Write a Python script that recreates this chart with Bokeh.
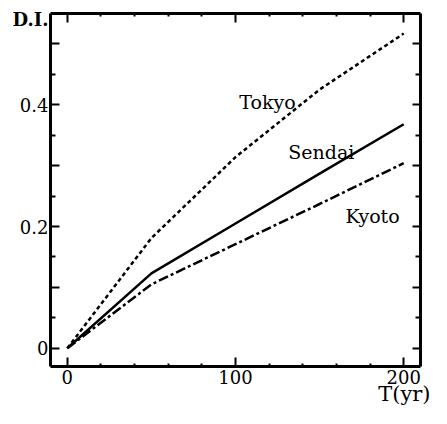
from bokeh.plotting import figure
from bokeh.models import LinearAxis, FixedTicker, Label, Range1d, Title
from bokeh.embed import file_html
from bokeh.resources import INLINE

# data
t = [0, 50, 100, 150, 200]
tokyo = [0.0, 0.181, 0.314, 0.425, 0.517]
sendai = [0.0, 0.123, 0.205, 0.287, 0.368]
kyoto = [0.0, 0.105, 0.171, 0.237, 0.304]

x_major = [0, 100, 200]
x_minor = [20, 40, 60, 80, 120, 140, 160, 180]
y_major = [0.0, 0.1, 0.2, 0.3, 0.4, 0.5]
y_minor = [0.05, 0.15, 0.25, 0.35, 0.45]
y_labels = {0.0: "0", 0.1: "", 0.2: "0.2", 0.3: "", 0.4: "0.4", 0.5: ""}
x_labels = {0: "0", 100: "100", 200: "200"}

FONT = "DejaVu Serif"

p = figure(width=431, height=408, output_backend="svg", toolbar_location=None,
           x_range=Range1d(-10, 210), y_range=Range1d(-0.03, 0.55),
           x_axis_location=None, y_axis_location=None,
           min_border_left=50, min_border_right=11, min_border_top=13, min_border_bottom=42)
p.outline_line_color = None
for g in p.grid:
    g.visible = False


def style(ax, major_in, minor_in, labels, show):
    ax.axis_line_width = 3
    ax.axis_line_color = "black"
    ax.major_tick_in = major_in
    ax.major_tick_out = 0
    ax.minor_tick_in = minor_in
    ax.minor_tick_out = 0
    ax.major_tick_line_width = 2
    ax.minor_tick_line_width = 2
    ax.major_label_text_font = FONT
    ax.major_label_text_color = "black"
    if show:
        ax.major_label_overrides = labels
        ax.major_label_text_font_size = "18px"
        ax.major_label_standoff = 2
    else:
        ax.major_label_overrides = {k: "" for k in labels}
        ax.major_label_text_font_size = "1px"
        ax.major_label_standoff = 0


xb = LinearAxis(ticker=FixedTicker(ticks=x_major, minor_ticks=x_minor))
style(xb, 9, 3, x_labels, True)
xb.major_label_standoff = 3
xt = LinearAxis(ticker=FixedTicker(ticks=x_major, minor_ticks=x_minor))
style(xt, 9, 3, x_labels, False)
yl = LinearAxis(ticker=FixedTicker(ticks=y_major, minor_ticks=y_minor))
style(yl, 9, 5, y_labels, True)
yr = LinearAxis(ticker=FixedTicker(ticks=y_major, minor_ticks=y_minor))
style(yr, 8, 5, y_labels, False)

p.add_layout(xb, "below")
p.add_layout(xt, "above")
p.add_layout(yl, "left")
p.add_layout(yr, "right")

p.line(t, tokyo, line_color="black", line_width=2.5, line_dash="4 3")
p.line(t, sendai, line_color="black", line_width=2.5)
p.line(t, kyoto, line_color="black", line_width=2.5, line_dash="10 3 3 3")

for txt, x, y in [("Tokyo", 119, 0.405), ("Sendai", 151, 0.323), ("Kyoto", 181.5, 0.218)]:
    p.add_layout(Label(x=x, y=y, text=txt, text_align="center", text_baseline="alphabetic",
                       text_font=FONT, text_font_size="19px", text_color="black"))

# axis names drawn as titles in the side panels (not clipped by the frame)
p.add_layout(Title(text="D.I.", align="left", vertical_align="bottom", offset=-38,
                   standoff=-33, text_font=FONT, text_font_size="18px",
                   text_font_style="bold", text_color="black"), "above")
p.add_layout(Title(text="T(yr)", align="right", vertical_align="top", offset=-10,
                   standoff=-10, text_font=FONT, text_font_size="21px",
                   text_font_style="normal", text_color="black"), "below")

open("out.html", "w").write(file_html(p, INLINE))
